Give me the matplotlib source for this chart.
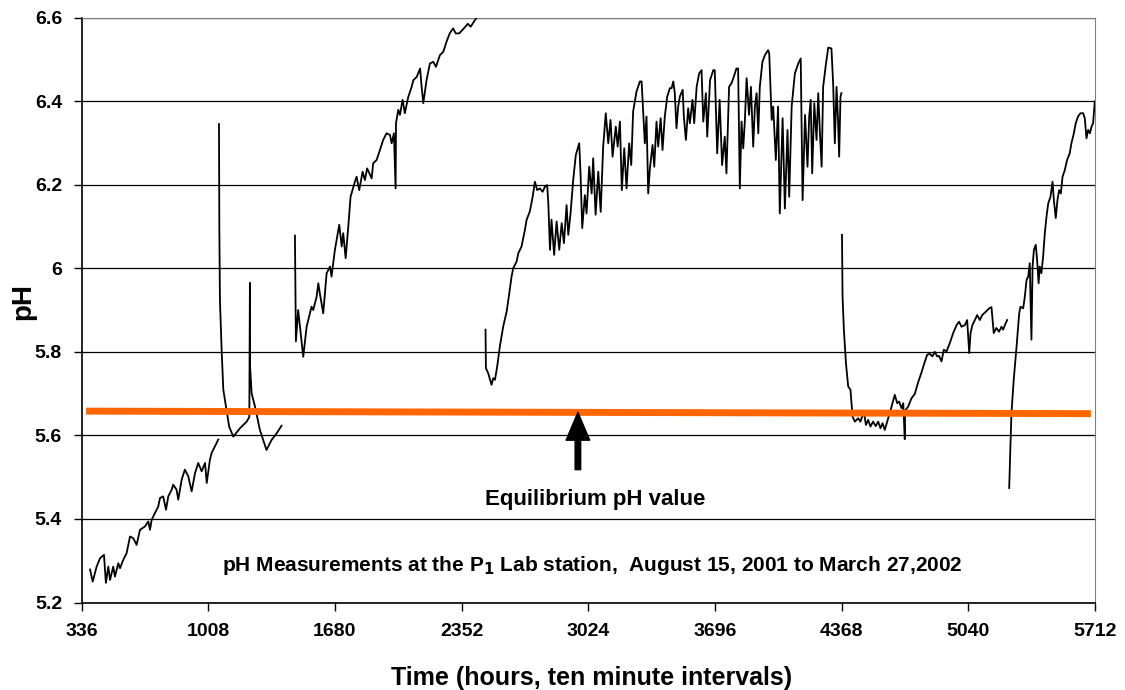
"""
pH record at the P1 Lab station, Aug 2001 - Mar 2002, with the equilibrium pH line.
Output: out.png
"""

import matplotlib
matplotlib.use("Agg")
import matplotlib.pyplot as plt

plt.rcParams["font.family"] = ["Liberation Sans", "DejaVu Sans"]
plt.rcParams["font.weight"] = "bold"
plt.rcParams["axes.labelweight"] = "bold"

# time in hours, pH (one list pair per logger run)
seg1_hours = [381, 395, 416, 434, 455, 465, 478, 487, 504, 513, 531, 540, 557, 575, 593,
              610, 628, 646, 672, 690, 699, 708, 725, 743, 752, 769, 784, 796, 814, 822,
              840, 849, 867, 884, 902, 920, 938, 955, 973, 991, 1000, 1017, 1026, 1044, 1061]
seg1_ph = [5.279, 5.250, 5.286, 5.306, 5.314, 5.247, 5.286, 5.254, 5.286, 5.262, 5.294, 5.282,
           5.302, 5.318, 5.358, 5.354, 5.338, 5.374, 5.382, 5.394, 5.374, 5.398, 5.414, 5.430,
           5.450, 5.454, 5.422, 5.454, 5.470, 5.482, 5.470, 5.446, 5.494, 5.518, 5.502, 5.466,
           5.510, 5.534, 5.514, 5.534, 5.486, 5.542, 5.558, 5.574, 5.590]

seg2_hours = [1065, 1067, 1070, 1079, 1088, 1105, 1119, 1141, 1176, 1212, 1226, 1229, 1230,
              1238, 1256, 1282, 1317, 1344, 1371, 1397]
seg2_ph = [6.345, 6.090, 5.924, 5.805, 5.709, 5.661, 5.621, 5.597, 5.617, 5.633, 5.644, 5.965,
           5.765, 5.701, 5.669, 5.613, 5.565, 5.589, 5.605, 5.623]

seg3_hours = [1468, 1473, 1485, 1512, 1530, 1556, 1565, 1583, 1592, 1600, 1618, 1636, 1654,
              1662, 1680, 1703, 1716, 1724, 1737, 1751, 1763, 1786, 1795, 1809, 1827, 1839,
              1851, 1875, 1883, 1901, 1919, 1936, 1954, 1972, 1981, 1993, 2002, 2004, 2016,
              2025, 2039, 2051, 2069, 2087, 2096, 2114, 2132, 2140, 2149, 2166, 2184, 2202,
              2216, 2237, 2255, 2272, 2289, 2307, 2321, 2339, 2360, 2385, 2400, 2420, 2440, 2460]
seg3_ph = [6.078, 5.825, 5.900, 5.788, 5.860, 5.908, 5.900, 5.932, 5.964, 5.940, 5.892, 5.988,
           6.004, 5.980, 6.044, 6.104, 6.052, 6.084, 6.024, 6.100, 6.171, 6.207, 6.219, 6.187,
           6.231, 6.211, 6.239, 6.215, 6.251, 6.259, 6.283, 6.307, 6.323, 6.319, 6.299, 6.323,
           6.191, 6.347, 6.379, 6.367, 6.403, 6.371, 6.410, 6.434, 6.450, 6.458, 6.478, 6.434,
           6.395, 6.450, 6.490, 6.494, 6.482, 6.510, 6.518, 6.542, 6.562, 6.574, 6.562, 6.562,
           6.572, 6.585, 6.578, 6.592, 6.605, 6.630]

seg4_hours = [2479, 2481, 2493, 2511, 2520, 2529, 2541, 2555, 2573, 2591,
              2605, 2617, 2626, 2644, 2653, 2670, 2688, 2697, 2714, 2729,
              2741, 2753, 2767, 2782, 2794, 2806, 2812, 2821, 2829, 2843,
              2856, 2870, 2883, 2895, 2909, 2918, 2930, 2944, 2958, 2976,
              2983, 2992, 3006, 3015, 3029, 3042, 3050, 3063, 3077, 3090,
              3103, 3117, 3130, 3142, 3153, 3170, 3180, 3192, 3202, 3215,
              3227, 3241, 3252, 3262, 3280, 3298, 3307, 3324, 3333, 3342,
              3351, 3365, 3374, 3386, 3395, 3408, 3418, 3430, 3443, 3457,
              3466, 3475, 3483, 3492, 3501, 3510, 3525, 3531, 3542, 3554,
              3563, 3577, 3586, 3599, 3612, 3625, 3634, 3648, 3655, 3670,
              3687, 3695, 3708, 3721, 3734, 3748, 3757, 3771, 3784, 3796,
              3810, 3819, 3828, 3837, 3846, 3855, 3864, 3877, 3887, 3899,
              3908, 3917, 3926, 3934, 3948, 3961, 3978, 3984, 3997, 4005,
              4019, 4031, 4040, 4055, 4067, 4081, 4090, 4103, 4120, 4138,
              4151, 4161, 4174, 4187, 4196, 4204, 4212, 4223, 4235, 4244,
              4253, 4262, 4270, 4284, 4297, 4314, 4323, 4332, 4341, 4349,
              4355, 4362, 4367]
seg4_ph = [5.853, 5.761, 5.749, 5.721, 5.737, 5.733, 5.765, 5.813, 5.861, 5.896,
           5.940, 5.980, 6.000, 6.016, 6.036, 6.052, 6.092, 6.116, 6.136, 6.171,
           6.207, 6.187, 6.191, 6.183, 6.195, 6.199, 6.156, 6.044, 6.116, 6.032,
           6.112, 6.044, 6.108, 6.060, 6.151, 6.080, 6.131, 6.211, 6.271, 6.299,
           6.227, 6.096, 6.175, 6.131, 6.243, 6.179, 6.263, 6.128, 6.231, 6.135,
           6.291, 6.371, 6.299, 6.355, 6.267, 6.339, 6.291, 6.351, 6.187, 6.287,
           6.191, 6.299, 6.247, 6.375, 6.423, 6.447, 6.447, 6.299, 6.363, 6.179,
           6.239, 6.295, 6.243, 6.351, 6.291, 6.359, 6.283, 6.363, 6.411, 6.431,
           6.431, 6.447, 6.419, 6.335, 6.387, 6.411, 6.427, 6.363, 6.307, 6.383,
           6.347, 6.403, 6.347, 6.434, 6.466, 6.474, 6.351, 6.419, 6.315, 6.450,
           6.474, 6.474, 6.275, 6.403, 6.247, 6.315, 6.227, 6.434, 6.443, 6.458,
           6.478, 6.478, 6.191, 6.351, 6.287, 6.355, 6.455, 6.367, 6.434, 6.291,
           6.387, 6.419, 6.323, 6.434, 6.494, 6.510, 6.522, 6.514, 6.355, 6.387,
           6.259, 6.387, 6.131, 6.359, 6.143, 6.331, 6.171, 6.387, 6.466, 6.490,
           6.502, 6.163, 6.367, 6.243, 6.363, 6.403, 6.227, 6.395, 6.307, 6.419,
           6.323, 6.243, 6.434, 6.486, 6.528, 6.526, 6.443, 6.299, 6.434, 6.355,
           6.267, 6.411, 6.419]

seg5_hours = [4370, 4373, 4380, 4391, 4403, 4415, 4426, 4438, 4456, 4468,
              4486, 4497, 4509, 4521, 4535, 4549, 4562, 4574, 4585, 4597,
              4615, 4633, 4650, 4663, 4673, 4686, 4695, 4703, 4705, 4721,
              4739, 4756, 4774, 4792, 4810, 4822, 4836, 4850, 4862, 4875,
              4885, 4898, 4910, 4925, 4942, 4960, 4978, 4991, 5004, 5022,
              5034, 5045, 5052, 5062, 5075, 5087, 5101, 5114, 5133, 5151,
              5163, 5175, 5189, 5203, 5216, 5225, 5238, 5246]
seg5_ph = [6.080, 5.932, 5.853, 5.773, 5.717, 5.709, 5.645, 5.633, 5.641, 5.633,
           5.657, 5.625, 5.637, 5.621, 5.633, 5.622, 5.633, 5.617, 5.629, 5.613,
           5.641, 5.669, 5.697, 5.677, 5.681, 5.665, 5.677, 5.591, 5.659, 5.669,
           5.689, 5.699, 5.727, 5.751, 5.777, 5.793, 5.795, 5.789, 5.800, 5.789,
           5.790, 5.777, 5.805, 5.801, 5.821, 5.845, 5.864, 5.872, 5.860, 5.864,
           5.876, 5.797, 5.845, 5.864, 5.876, 5.888, 5.876, 5.888, 5.896, 5.904,
           5.907, 5.845, 5.857, 5.848, 5.860, 5.853, 5.868, 5.876]

seg6_hours = [5257, 5264, 5269, 5281, 5296, 5310, 5317, 5331, 5340, 5349,
              5358, 5366, 5375, 5381, 5388, 5398, 5405, 5413, 5419, 5428,
              5437, 5446, 5455, 5464, 5476, 5487, 5494, 5504, 5513, 5522,
              5531, 5540, 5552, 5564, 5578, 5587, 5600, 5610, 5622, 5635,
              5649, 5658, 5667, 5676, 5685, 5694, 5702, 5711]
seg6_ph = [5.474, 5.581, 5.653, 5.733, 5.812, 5.892, 5.908, 5.904, 5.932, 5.972,
           5.980, 6.012, 5.829, 6.004, 6.044, 6.056, 6.020, 5.964, 6.004, 5.988,
           6.028, 6.084, 6.124, 6.155, 6.171, 6.207, 6.163, 6.120, 6.163, 6.187,
           6.179, 6.219, 6.235, 6.259, 6.275, 6.299, 6.323, 6.347, 6.363, 6.371,
           6.371, 6.359, 6.311, 6.331, 6.323, 6.339, 6.347, 6.399]

# equilibrium line (drawn by hand in the original, slightly tilted)
eq_hours = [360, 5690]
eq_ph = [5.658, 5.652]

x_ticks = [336, 1008, 1680, 2352, 3024, 3696, 4368, 5040, 5712]
y_ticks = [5.2, 5.4, 5.6, 5.8, 6.0, 6.2, 6.4, 6.6]
y_labels = ["5.2", "5.4", "5.6", "5.8", "6", "6.2", "6.4", "6.6"]

segments = [(seg1_hours, seg1_ph), (seg2_hours, seg2_ph), (seg3_hours, seg3_ph),
            (seg4_hours, seg4_ph), (seg5_hours, seg5_ph), (seg6_hours, seg6_ph)]


fig = plt.figure(figsize=(11.25, 6.9), dpi=100)
ax = fig.add_axes([0.0725, 0.1268, 0.9008, 0.8478])

for hours, ph in segments:
    ax.plot(hours, ph, color="black", lw=1.3, zorder=3)

ax.plot(eq_hours, eq_ph, color="#ff6600", lw=5, solid_capstyle="butt", zorder=4)

ax.set_xlim(336, 5712)
ax.set_ylim(5.2, 6.6)
ax.set_xticks(x_ticks)
ax.set_yticks(y_ticks)
ax.set_yticklabels(y_labels)
ax.tick_params(axis="both", direction="out", length=6, width=1, labelsize=14)
ax.tick_params(axis="y", pad=8)
ax.tick_params(axis="x", pad=9)
ax.grid(axis="y", color="black", lw=0.9)
ax.set_axisbelow(True)

for side in ["top", "right"]:
    ax.spines[side].set_color("#808080")
ax.spines["left"].set_linewidth(1.2)
ax.spines["bottom"].set_linewidth(1.2)

ax.set_ylabel("pH", fontsize=20, fontweight="bold")
ax.yaxis.set_label_coords(-0.058, 0.515)
ax.yaxis.label.set_va("center")
ax.set_xlabel("Time (hours, ten minute intervals)", fontsize=18, fontweight="bold")
ax.xaxis.set_label_coords(0.503, -0.129)
ax.xaxis.label.set_va("center")

# arrow + labels inside the plot
ax.annotate("", xy=(2969, 5.655), xytext=(2969, 5.518),
            arrowprops=dict(facecolor="black", edgecolor="black", width=4,
                            headwidth=17, headlength=20, shrink=0), zorder=5)
ax.text(3059, 5.446, "Equilibrium pH value", ha="center", va="center", fontsize=16)
ax.text(3043, 5.288,
        r"pH Measurements at the P$_\mathbf{1}$ Lab station,  August 15, 2001 to March 27,2002",
        ha="center", va="center", fontsize=15)

fig.savefig("out.png", dpi=100)
